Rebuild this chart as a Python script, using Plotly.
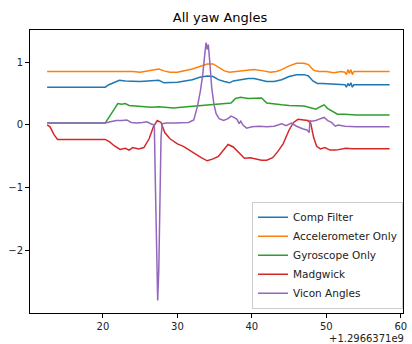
import plotly.graph_objects as go

# ---- data (time offsets relative to 1.2966371e9 s) ----
comp_t = [12.5, 20.3, 20.8, 21.5, 22.2, 23.0, 24.0, 25.0, 26.0, 27.0, 27.5, 28.2, 29.0, 30.0, 31.0, 32.0, 33.0,
          34.0, 34.8, 35.5, 36.3, 37.0, 37.5, 38.5, 39.5, 40.3, 41.0, 42.0, 43.0, 44.0, 45.0, 46.0, 47.0, 47.6,
          48.2, 48.8, 49.5, 50.5, 51.5, 52.5, 52.7, 52.9, 53.1, 53.3, 53.5, 53.7, 54.5, 56.0, 58.5]
comp_v = [0.60, 0.60, 0.64, 0.68, 0.71, 0.70, 0.69, 0.69, 0.70, 0.70, 0.71, 0.67, 0.67, 0.68, 0.70, 0.72, 0.76,
          0.78, 0.77, 0.72, 0.69, 0.67, 0.70, 0.72, 0.74, 0.74, 0.72, 0.69, 0.69, 0.72, 0.77, 0.80, 0.80, 0.78,
          0.70, 0.66, 0.66, 0.65, 0.65, 0.64, 0.60, 0.66, 0.62, 0.67, 0.60, 0.64, 0.64, 0.64, 0.64]

acc_t = [12.5, 20.3, 21.0, 22.0, 23.0, 24.0, 25.0, 26.0, 27.0, 27.5, 28.2, 29.0, 30.0, 31.0, 32.0, 33.0, 34.0,
         34.8, 35.5, 36.3, 37.0, 38.0, 39.0, 40.3, 41.5, 42.5, 43.3, 44.0, 45.0, 46.0, 47.0, 47.6, 48.3, 49.0,
         50.0, 51.0, 52.0, 52.5, 52.7, 52.9, 53.1, 53.3, 53.5, 53.7, 54.5, 56.0, 58.5]
acc_v = [0.85, 0.85, 0.86, 0.85, 0.86, 0.85, 0.84, 0.86, 0.89, 0.89, 0.86, 0.84, 0.84, 0.86, 0.89, 0.93, 0.97,
         0.97, 0.92, 0.86, 0.84, 0.85, 0.87, 0.88, 0.86, 0.84, 0.85, 0.88, 0.94, 0.98, 0.98, 0.96, 0.87, 0.85,
         0.85, 0.83, 0.85, 0.84, 0.80, 0.88, 0.82, 0.88, 0.80, 0.85, 0.85, 0.85, 0.85]

gyro_t = [12.5, 20.3, 20.8, 21.5, 22.0, 22.5, 23.0, 23.5, 24.5, 25.5, 26.5, 27.5, 28.5, 29.5, 30.5, 31.5, 32.5,
          33.5, 34.5, 35.5, 36.5, 37.2, 37.8, 38.5, 39.5, 40.5, 41.3, 42.0, 43.0, 44.0, 45.0, 46.0, 47.0, 48.0,
          48.6, 49.2, 49.7, 50.2, 50.8, 51.5, 52.5, 54.0, 56.0, 58.5]
gyro_v = [0.03, 0.03, 0.12, 0.26, 0.34, 0.33, 0.34, 0.31, 0.30, 0.30, 0.28, 0.29, 0.28, 0.27, 0.28, 0.29, 0.31,
          0.32, 0.33, 0.33, 0.34, 0.35, 0.42, 0.44, 0.42, 0.42, 0.43, 0.35, 0.33, 0.32, 0.31, 0.31, 0.30, 0.27,
          0.25, 0.29, 0.32, 0.26, 0.22, 0.17, 0.17, 0.16, 0.16, 0.16]

madg_t = [12.5, 12.9, 13.4, 13.9, 20.3, 20.9, 21.5, 22.3, 23.0, 23.5, 24.0, 24.8, 25.5, 26.2, 26.8, 27.3, 27.8,
          28.3, 29.0, 30.0, 30.8, 31.6, 32.5, 33.2, 34.0, 34.8, 35.5, 36.2, 36.8, 37.5, 38.3, 39.0, 39.8, 40.5,
          41.3, 42.0, 42.8, 43.5, 44.2, 45.0, 45.6, 46.2, 47.0, 47.5, 47.9, 48.3, 48.7, 49.2, 49.8, 50.5, 51.3,
          52.0, 52.6, 53.5, 55.0, 58.5]
madg_v = [0.0, -0.03, -0.15, -0.23, -0.23, -0.27, -0.33, -0.39, -0.37, -0.40, -0.36, -0.38, -0.36, -0.22, -0.02,
          0.07, 0.04, -0.12, -0.22, -0.30, -0.34, -0.40, -0.48, -0.52, -0.57, -0.54, -0.50, -0.40, -0.31, -0.35,
          -0.44, -0.53, -0.52, -0.54, -0.56, -0.56, -0.52, -0.42, -0.30, -0.08, 0.04, 0.09, 0.08, 0.07, 0.03,
          -0.20, -0.34, -0.38, -0.36, -0.40, -0.40, -0.38, -0.37, -0.38, -0.38, -0.38]

vicon_t = [12.5, 20.3, 21.0, 21.8, 22.5, 23.2, 23.8, 24.5, 25.3, 25.9, 26.4, 26.9, 27.05, 27.2, 27.35, 27.5,
           27.65, 27.8, 27.95, 28.5, 29.5, 30.5, 31.5, 32.2, 32.7, 33.1, 33.4, 33.7, 33.85, 34.0, 34.15, 34.35,
           34.6, 34.9, 35.2, 35.6, 36.2, 36.8, 37.2, 37.6, 38.0, 38.3, 38.5, 38.8, 39.3, 40.0, 41.0, 42.0, 43.0,
           44.0, 44.6, 45.3, 46.0, 46.8, 47.4, 47.7, 47.8, 48.0, 48.6, 49.2, 49.7, 50.2, 50.7, 51.2, 51.6, 52.5,
           54.0, 56.0, 58.5]
vicon_v = [0.03, 0.03, 0.05, 0.07, 0.07, 0.08, 0.04, 0.03, 0.04, 0.05, 0.02, 0.0, -1.0, -2.3, -2.79, -2.3,
           -1.2, -0.2, 0.02, 0.03, 0.03, 0.04, 0.04, 0.08, 0.30, 0.55, 0.80, 1.15, 1.31, 1.20, 1.28, 1.0,
           0.6, 0.33, 0.18, 0.10, 0.07, 0.10, 0.14, 0.12, 0.09, 0.02, 0.06, 0.0, -0.05, -0.03, -0.02, -0.03, -0.02,
           0.02, -0.01, 0.03, -0.02, -0.06, -0.08, -0.12, 0.07, 0.06, 0.07, 0.10, 0.12, 0.07, 0.04, -0.02, 0.0,
           -0.02, -0.03, -0.03, -0.03]

names = ["Comp Filter", "Accelerometer Only", "Gyroscope Only", "Madgwick", "Vicon Angles"]
colors = ["#1f77b4", "#ff7f0e", "#2ca02c", "#d62728", "#9467bd"]
x_ticks = [20, 30, 40, 50, 60]
y_ticks = [-2, -1, 0, 1]
offset_label = "+1.2966371e9"

series = [(comp_t, comp_v), (acc_t, acc_v), (gyro_t, gyro_v), (madg_t, madg_v), (vicon_t, vicon_v)]

fig = go.Figure()
for (t, v), n, c in zip(series, names, colors):
    fig.add_trace(go.Scatter(x=t, y=v, mode="lines", name=n, line=dict(color=c, width=1.5)))

font = "DejaVu Sans"
axis_common = dict(showgrid=False, zeroline=False, showline=True, linecolor="black", linewidth=1,
                   mirror=True, ticks="outside", ticklen=4, tickwidth=1, tickcolor="black",
                   tickfont=dict(family=font, size=10, color="#222222"))

fig.update_layout(
    width=412, height=344,
    margin=dict(l=30, r=5, t=30, b=31),
    paper_bgcolor="white", plot_bgcolor="white",
    title=dict(text="All yaw Angles", x=220 / 412, xanchor="center", y=1 - 17 / 344, yanchor="middle",
               font=dict(family=font, size=13, color="black")),
    xaxis=dict(range=[10.2, 60.3], tickvals=x_ticks, **axis_common),
    yaxis=dict(range=[-2.99, 1.51], tickvals=y_ticks, **axis_common),
    legend=dict(x=1.0, y=0.015, xanchor="right", yanchor="bottom",
                bgcolor="rgba(255,255,255,0.8)", bordercolor="#cccccc", borderwidth=1,
                font=dict(family=font, size=10.5, color="#222222"), tracegroupgap=0),
    showlegend=True,
)
fig.add_annotation(text=offset_label, xref="paper", yref="paper", x=1.008, y=-0.09,
                   xanchor="right", yanchor="middle", showarrow=False,
                   font=dict(family=font, size=10, color="#222222"))

fig.write_html("out.html")
